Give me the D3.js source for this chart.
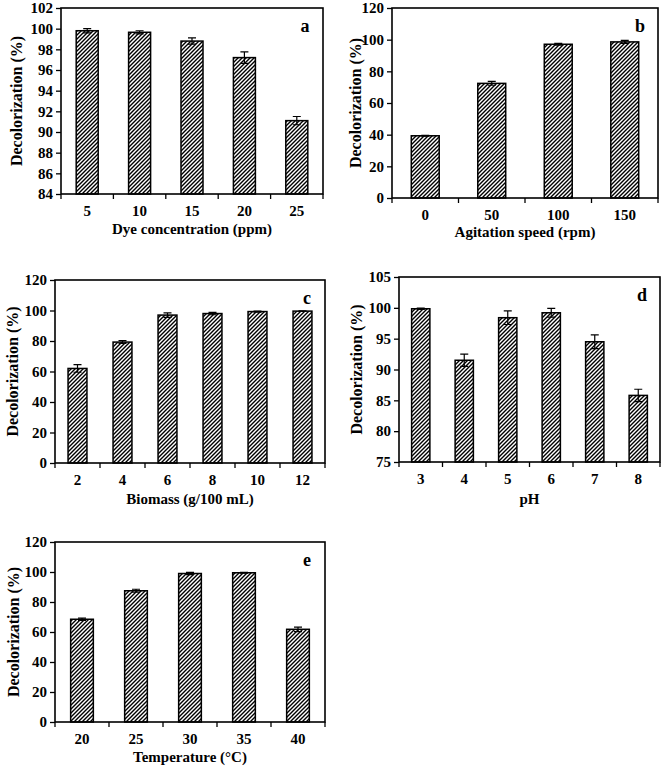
<!DOCTYPE html>
<html>
<head>
<meta charset="utf-8">
<script src="https://cdn.jsdelivr.net/npm/d3@7"></script>
<style>
  body { margin: 0; background: #fff; }
  text { font-family: "Liberation Serif", "Times New Roman", serif; font-weight: bold; fill: #000; }
</style>
</head>
<body>
<svg id="chart" width="662" height="770"></svg>
<script>
// (a) dye concentration
const dyeCats = ['5', '10', '15', '20', '25'];
const dyeVals = [99.8, 99.65, 98.8, 97.2, 91.1];
const dyeErr = [0.2, 0.15, 0.3, 0.55, 0.4];
const dyeTicks = [84, 86, 88, 90, 92, 94, 96, 98, 100, 102];

// (b) agitation speed
const agiCats = ['0', '50', '100', '150'];
const agiVals = [39.3, 72.4, 97.1, 98.6];
const agiErr = [0.2, 1.2, 0.5, 0.9];
const pctTicks = [0, 20, 40, 60, 80, 100, 120];

// (c) biomass
const bioCats = ['2', '4', '6', '8', '10', '12'];
const bioVals = [62, 79.3, 97, 98, 99.3, 99.6];
const bioErr = [2.5, 0.9, 1.5, 0.8, 0.3, 0.2];

// (d) pH
const phCats = ['3', '4', '5', '6', '7', '8'];
const phVals = [99.85, 91.5, 98.4, 99.2, 94.5, 85.8];
const phErr = [0.1, 1.0, 1.1, 0.7, 1.1, 1.0];
const phTicks = [75, 80, 85, 90, 95, 100, 105];

// (e) temperature
const tempCats = ['20', '25', '30', '35', '40'];
const tempVals = [68.5, 87.5, 99, 99.5, 61.8];
const tempErr = [0.7, 1.0, 0.7, 0.3, 1.5];

const svg = d3.select('#chart');

svg.append('defs').append('pattern')
    .attr('id', 'hatch')
    .attr('patternUnits', 'userSpaceOnUse')
    .attr('width', 4)
    .attr('height', 4)
  .append('path')
    .attr('d', 'M-1,1 l2,-2 M0,4 l4,-4 M3,5 l2,-2')
    .attr('stroke', '#000')
    .attr('stroke-width', 1.4);

function panel(cfg) {
    const g = svg.append('g');
    const x = d3.scaleBand().domain(cfg.cats)
        .range([cfg.left, cfg.right])
        .paddingInner(0.58).paddingOuter(0.29);
    const y = d3.scaleLinear().domain(cfg.domain).range([cfg.bottom, cfg.top]);
    const base = y(cfg.domain[0]);

    // bars
    g.selectAll('rect.bar').data(cfg.vals).join('rect')
        .attr('class', 'bar')
        .attr('x', (d, i) => x(cfg.cats[i]))
        .attr('y', d => y(d))
        .attr('width', x.bandwidth())
        .attr('height', d => base - y(d))
        .attr('fill', 'url(#hatch)')
        .attr('stroke', '#000')
        .attr('stroke-width', 1.5);

    // error bars
    const cap = 4;
    cfg.vals.forEach(function(v, i) {
        const cx = x(cfg.cats[i]) + x.bandwidth() / 2;
        const e = cfg.err[i];
        const y1 = y(v - e), y2 = Math.max(y(v + e), cfg.top);
        g.append('path')
            .attr('d', `M${cx},${y1}V${y2}M${cx - cap},${y2}H${cx + cap}M${cx - cap},${y1}H${cx + cap}`)
            .attr('stroke', '#000')
            .attr('stroke-width', 1.2)
            .attr('fill', 'none');
    });

    // y axis
    const ya = g.append('g')
        .attr('transform', `translate(${cfg.left},0)`)
        .call(d3.axisLeft(y).tickValues(cfg.ticks).tickSize(5).tickSizeOuter(0).tickPadding(3));
    ya.select('.domain').remove();
    ya.selectAll('.tick line').attr('stroke-width', 1.3);
    ya.selectAll('.tick text')
        .attr('font-size', 15)
        .style('font-family', '"Liberation Serif", serif')
        .style('font-weight', 'bold');

    // x ticks at category boundaries
    const step = x.step();
    g.selectAll('line.xt').data(d3.range(cfg.cats.length + 1)).join('line')
        .attr('x1', i => cfg.left + i * step)
        .attr('x2', i => cfg.left + i * step)
        .attr('y1', cfg.bottom)
        .attr('y2', cfg.bottom + 5)
        .attr('stroke', '#000')
        .attr('stroke-width', 1.3);

    g.selectAll('text.xl').data(cfg.cats).join('text')
        .attr('x', d => x(d) + x.bandwidth() / 2)
        .attr('y', cfg.bottom + 22)
        .attr('text-anchor', 'middle')
        .attr('font-size', 15)
        .text(d => d);

    // frame
    g.append('rect')
        .attr('x', cfg.left)
        .attr('y', cfg.top)
        .attr('width', cfg.right - cfg.left)
        .attr('height', cfg.bottom - cfg.top)
        .attr('fill', 'none')
        .attr('stroke', '#000')
        .attr('stroke-width', 1.6);

    // titles
    g.append('text')
        .attr('x', (cfg.left + cfg.right) / 2)
        .attr('y', cfg.bottom + cfg.xTitleOff)
        .attr('text-anchor', 'middle')
        .attr('font-size', 15)
        .text(cfg.xTitle);

    g.append('text')
        .attr('transform', `translate(${cfg.yTitleX},${(cfg.top + cfg.bottom) / 2}) rotate(-90)`)
        .attr('text-anchor', 'middle')
        .attr('font-size', 16)
        .text('Decolorization (%)');

    g.append('text')
        .attr('x', cfg.right - 18)
        .attr('y', cfg.top + 24)
        .attr('text-anchor', 'middle')
        .attr('font-size', 18)
        .text(cfg.label);
}

panel({cats: dyeCats, vals: dyeVals, err: dyeErr, ticks: dyeTicks, domain: [84, 102],
    left: 61, right: 323, top: 8, bottom: 194, xTitle: 'Dye concentration (ppm)',
    xTitleOff: 40, yTitleX: 22, label: 'a'});
panel({cats: agiCats, vals: agiVals, err: agiErr, ticks: pctTicks, domain: [0, 120],
    left: 392, right: 658, top: 8, bottom: 198, xTitle: 'Agitation speed (rpm)',
    xTitleOff: 39, yTitleX: 361, label: 'b'});
panel({cats: bioCats, vals: bioVals, err: bioErr, ticks: pctTicks, domain: [0, 120],
    left: 55, right: 325, top: 280, bottom: 463, xTitle: 'Biomass (g/100 mL)',
    xTitleOff: 41, yTitleX: 18, label: 'c'});
panel({cats: phCats, vals: phVals, err: phErr, ticks: phTicks, domain: [75, 105],
    left: 399, right: 660, top: 277, bottom: 462, xTitle: 'pH',
    xTitleOff: 42, yTitleX: 362, label: 'd'});
panel({cats: tempCats, vals: tempVals, err: tempErr, ticks: pctTicks, domain: [0, 120],
    left: 55, right: 325, top: 542, bottom: 722, xTitle: 'Temperature (°C)',
    xTitleOff: 40, yTitleX: 19, label: 'e'});
</script>
</body>
</html>
